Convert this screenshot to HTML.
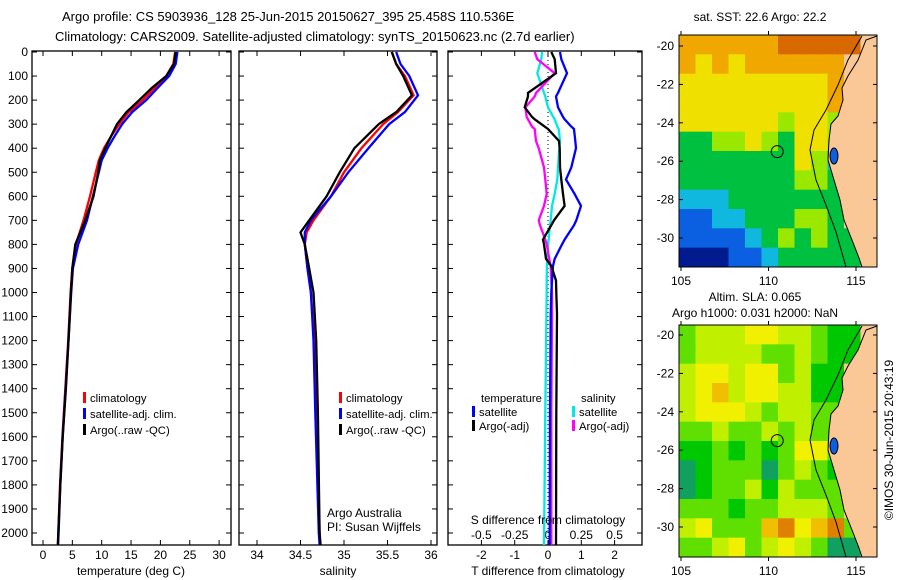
<!DOCTYPE html>
<html><head><meta charset="utf-8"><style>
body{margin:0;background:#fff;}
svg{display:block;font-family:"Liberation Sans",sans-serif;}
text{font-size:12px;fill:#000;}
text.lg{font-size:11.3px;}
</style></head><body>
<svg id="s" width="900" height="580" xmlns="http://www.w3.org/2000/svg">
<text x="62" y="21" style="font-size:13px">Argo profile: CS 5903936_128 25-Jun-2015 20150627_395 25.458S 110.536E</text>
<text x="55" y="41" style="font-size:13px">Climatology: CARS2009. Satellite-adjusted climatology: synTS_20150623.nc (2.7d earlier)</text>
<text x="760" y="21" text-anchor="middle">sat. SST: 22.6 Argo: 22.2</text>
<text x="755" y="301" text-anchor="middle">Altim. SLA: 0.065</text>
<text x="755" y="317" text-anchor="middle">Argo h1000: 0.031 h2000: NaN</text>
<text transform="translate(893,440) rotate(-90)" text-anchor="middle">©IMOS 30-Jun-2015 20:43:19</text>
<g id="g"></g>
</svg>
<script>
// ---- profile data ----
const tDepth=[0,50,100,150,200,250,300,350,400,450,500,600,700,800,900,1000,1200,1400,1600,1800,2000,2050];
const tClim=[22.5,22.2,21,19,17,14.6,13,11.6,10.4,9.5,9,8,6.9,5.6,5,4.7,4.3,3.8,3.3,2.9,2.6,2.5];
const tSat=[22.9,22.6,21.5,19.5,17.6,15.2,13.5,12.2,11,10,9.5,8.5,7.5,6,5.1,4.8,4.35,3.85,3.35,2.95,2.65,2.55];
const tArgo=[22.6,22.3,21,18.5,16.4,14.2,12.6,11.6,10.6,9.7,9.4,8.6,7.2,5.5,5,4.75,4.35,3.9,3.35,2.95,2.6,2.55];
const sDepth=[0,50,100,180,250,300,400,500,600,700,750,800,900,1000,1200,1500,2000,2050];
const sClim=[35.55,35.6,35.7,35.8,35.62,35.45,35.2,35.0,34.85,34.65,34.57,34.55,34.58,34.62,34.66,34.68,34.72,34.73];
const sSat=[35.6,35.65,35.75,35.85,35.7,35.52,35.28,35.05,34.85,34.62,34.55,34.55,34.58,34.62,34.65,34.67,34.71,34.72];
const sArgo=[35.55,35.6,35.68,35.78,35.6,35.4,35.12,34.95,34.8,34.6,34.5,34.55,34.6,34.65,34.68,34.7,34.72,34.73];
const dDepth=[0,30,88,170,185,230,270,280,310,320,370,400,480,530,590,640,700,720,780,800,860,890,950,1000,1090,1500,2050];
const dTsat=[0.36,0.4,0.57,0.3,0.24,0.3,0.45,0.5,0.7,0.78,0.82,0.84,0.7,0.54,0.8,0.99,0.85,0.78,0.5,0.42,0.2,0.15,0.12,0.1,0.08,0.06,0.05];
const dTargo=[0.1,0.2,0.24,-0.6,-0.6,-0.7,-0.48,-0.4,-0.1,0,0.33,0.35,0.36,0.4,0.45,0.5,0.18,0.1,-0.15,-0.12,-0.06,0.1,0.24,0.25,0.27,0.25,0.24];
const dSsat=[-0.045,-0.05,-0.08,-0.03,-0.02,0,0.04,0.05,0.07,0.08,0.09,0.085,0.075,0.07,0.05,0.03,0.02,0.015,0.005,0,-0.005,-0.008,-0.01,-0.01,-0.012,-0.02,-0.03];
const dSargo=[-0.1,-0.08,0.05,-0.09,-0.1,-0.17,-0.16,-0.15,-0.12,-0.1,-0.09,-0.07,-0.03,-0.02,-0.01,-0.03,-0.07,-0.06,-0.02,-0.01,0.01,0.02,0.025,0.03,0.03,0.025,0.025];
const depthTicks=[0,100,200,300,400,500,600,700,800,900,1000,1100,1200,1300,1400,1500,1600,1700,1800,1900,2000];
const tTicks=[0,5,10,15,20,25,30];
const sTicks=[34,34.5,35,35.5,36];
const dTicks=[-2,-1,0,1,2];
const dSLabels=["-0.5","-0.25","0","0.25","0.5"];
// ---- map data (colour class per cell, 9 = land) ----
const sstGrid=[
[6,6,6,6,6,6,7,7,7,7,7,9],[6,5,6,5,6,6,6,6,6,6,9,9],[5,5,5,5,5,5,5,5,5,6,9,9],[5,5,5,5,5,5,5,5,5,6,9,9],
[5,5,5,5,5,5,4,5,5,4,9,9],[3,3,4,4,5,4,3,5,5,4,9,9],[3,3,3,3,3,3,3,5,4,2,9,9],[3,3,3,3,3,3,3,4,4,3,9,9],
[2,2,2,3,3,3,3,3,3,3,9,9],[1,1,2,2,3,3,3,4,4,3,9,9],[1,1,1,1,2,3,4,3,4,3,3,9],[0,0,0,1,1,2,3,3,3,3,3,9]];
const sstColors=["#001a90","#0a60e0","#10b8e0","#00c040","#9ae800","#f0e000","#f0a800","#d86800"];
const slaGrid=[
[2,3,3,3,4,4,3,3,2,1,1,9],[2,3,3,3,3,2,2,3,2,1,1,9],[3,4,4,3,4,4,2,3,1,1,9,9],[3,4,5,3,4,4,3,3,1,1,9,9],
[3,4,4,4,3,2,3,3,2,2,9,9],[2,2,3,2,2,3,2,3,2,2,9,9],[1,1,2,1,2,1,2,4,4,2,9,9],[0,1,2,2,2,0,2,3,2,1,9,9],
[0,1,2,2,3,1,3,2,2,2,9,9],[2,2,2,1,2,2,3,3,3,2,9,9],[3,4,2,2,2,5,6,4,5,6,2,9],[2,2,3,4,2,3,4,3,2,0,0,9]];
const slaColors=["#10a060","#00c800","#60e000","#c0f000","#f0f000","#f0c000","#e08000"];
const latTicks=[-20,-22,-24,-26,-28,-30];
const lonTicks=[105,110,115];

const NS="http://www.w3.org/2000/svg",G=document.getElementById('g');
function el(t,a,p){const e=document.createElementNS(NS,t);for(const k in a)e.setAttribute(k,a[k]);(p||G).appendChild(e);return e;}
const yD=d=>52+0.2405*d;
function frame(x0,x1,name){
  const r=el('rect',{x:x0,y:51,width:x1-x0,height:494,fill:'none',stroke:'#000','stroke-width':1.3});
  
  
  depthTicks.forEach(d=>{const y=yD(d);
    el('line',{x1:x0,x2:x0+5,y1:y,y2:y,stroke:'#000'});el('line',{x1:x1-5,x2:x1,y1:y,y2:y,stroke:'#000'});});
}
function xticks(vals,fx,labels,ly,name){
  vals.forEach((v,i)=>{const x=fx(v);
    el('line',{x1:x,x2:x,y1:51,y2:56,stroke:'#000'});el('line',{x1:x,x2:x,y1:540,y2:545,stroke:'#000'});
    if(labels){const t=el('text',{x:x,y:ly,'text-anchor':'middle'});t.textContent=labels[i];
      
      }});
}
function line(xs,ds,fx,col,name,w){
  let p='';xs.forEach((v,i)=>{p+=(i?'L':'M')+fx(v).toFixed(1)+','+yD(ds[i]).toFixed(1);});
  const e=el('path',{d:p,fill:'none',stroke:col,'stroke-width':w||2.3});
  
  
}
function txt(x,y,s,name,anchor,cls){const t=el('text',{x:x,y:y,'text-anchor':anchor||'start'});t.textContent=s;
  if(cls)t.setAttribute('class',cls);
  
  return t;}
// depth labels
depthTicks.forEach(d=>txt(28,yD(d)+4,String(d),'depth-tick-label','end'));
// panel 1
const fT=v=>43+5.87*v;
frame(32,231,'temperature-panel');xticks(tTicks,fT,tTicks,559,'temperature-tick-label');
line(tClim,tDepth,fT,'#ff0000','temp-climatology');line(tSat,tDepth,fT,'#0000ff','temp-satellite');line(tArgo,tDepth,fT,'#000','temp-argo');
txt(131,575,'temperature (deg C)','temperature-axis-title','middle');
// panel 2
const fS=v=>257+87*(v-34);
frame(239,437,'salinity-panel');xticks(sTicks,fS,sTicks,559,'salinity-tick-label');
line(sClim,sDepth,fS,'#ff0000','sal-climatology');line(sSat,sDepth,fS,'#0000ff','sal-satellite');line(sArgo,sDepth,fS,'#000','sal-argo');
txt(338,575,'salinity','salinity-axis-title','middle');
txt(327,517,'Argo Australia','credit-line-1');txt(327,531,'PI: Susan Wijffels','credit-line-2');
// panel 3
const fDT=v=>548+33.3*v, fDS=v=>548+133.2*v;
frame(448,642,'difference-panel');xticks(dTicks,fDT,dTicks,559,'t-diff-tick-label');
dSLabels.forEach((s,i)=>txt(fDT(dTicks[i]),539,s,'s-diff-tick-label','middle'));
el('line',{x1:548,x2:548,y1:52,y2:545,stroke:'#000','stroke-dasharray':'1,3'});
line(dSsat,dDepth,fDS,'#00e8e8','sdiff-satellite');line(dSargo,dDepth,fDS,'#ff00ff','sdiff-argo');
line(dTsat,dDepth,fDT,'#0000ff','tdiff-satellite');line(dTargo,dDepth,fDT,'#000','tdiff-argo');
txt(548,524,'S difference from climatology','s-diff-axis-title','middle');
txt(548,575,'T difference from climatology','t-diff-axis-title','middle');
// legends
function leg(x,y,col,s,name){el('rect',{x:x,y:y-10,width:3,height:11,fill:col});txt(x+7,y,s,name,'start','lg');}
[['#ff0000','climatology'],['#0000ff','satellite-adj. clim.'],['#000','Argo(..raw -QC)']].forEach((l,i)=>{
  leg(83,402+16*i,l[0],l[1],'temp-legend-entry');leg(339,402+16*i,l[0],l[1],'sal-legend-entry');});
txt(481,402,'temperature','diff-legend-temp-header','start','lg');txt(581,402,'salinity','diff-legend-sal-header','start','lg');
leg(472,416,'#0000ff','satellite','diff-legend-entry');leg(472,430,'#000','Argo(-adj)','diff-legend-entry');
leg(572,416,'#00e8e8','satellite','diff-legend-entry');leg(572,430,'#ff00ff','Argo(-adj)','diff-legend-entry');
// maps
const lonX=v=>681+17.5*(v-105);
function map(y0,grid,cols,name,la0){
  const cw=198/12,ch=232/12;
  grid.forEach((row,r)=>row.forEach((c,k)=>{
    const e=el('rect',{x:679+k*cw,y:y0+r*ch,width:cw+0.5,height:ch+0.5,fill:c===9?'#fac896':cols[c]});
    
    }));
  const o=y0-35;
  const land=el('path',{d:`M877,${36+o}L866,${40+o}L858,${60+o}L848,${76+o}L842,${88+o}L843,${100+o}L838,${116+o}L831,${124+o}L829,${140+o}L828,${160+o}L834,${180+o}L840,${200+o}L844,${220+o}L852,${240+o}L859,${258+o}L862,${267+o}L877,${267+o}Z`,fill:'#fac896',stroke:'#000','stroke-width':1});
  
  
  el('path',{d:`M862,${36+o}L848,${60+o}L838,${85+o}L826,${110+o}L814,${130+o}L810,${150+o}L816,${180+o}L826,${205+o}L836,${232+o}L846,${267+o}`,fill:'none',stroke:'#000','stroke-width':1});
  el('ellipse',{cx:834,cy:156+o,rx:4,ry:8,fill:'#0a60e0',stroke:'#000'});
  const b=el('rect',{x:679,y:y0,width:198,height:232,fill:'none',stroke:'#000'});
  
  
  latTicks.forEach(l=>{const y=la0+19.2*(-20-l);
    el('line',{x1:679,x2:683,y1:y,y2:y,stroke:'#000'});el('line',{x1:873,x2:877,y1:y,y2:y,stroke:'#000'});
    txt(674,y+4,String(l),'map-lat-label','end');});
  lonTicks.forEach(v=>{const x=lonX(v);
    el('line',{x1:x,x2:x,y1:y0-4,y2:y0,stroke:'#000'});el('line',{x1:x,x2:x,y1:y0+232,y2:y0+236,stroke:'#000'});
    txt(x,y0+250,String(v),'map-lon-label','middle');});
  const c=el('circle',{cx:lonX(110.5),cy:la0+19.2*5.5,r:6,fill:'none',stroke:'#000'});
  
  
}
map(35,sstGrid,sstColors,'sst-map',46);
map(325,slaGrid,slaColors,'sla-map',335);
</script>
</body></html>
